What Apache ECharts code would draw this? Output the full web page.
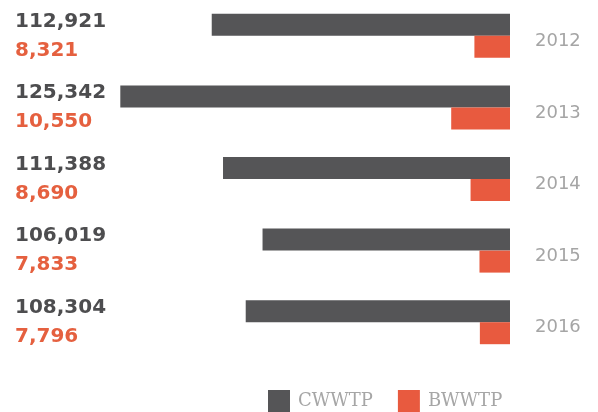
<!DOCTYPE html>
<html>
<head>
<meta charset="utf-8">
<script src="https://cdn.jsdelivr.net/npm/echarts@6/dist/echarts.min.js"></script>
<style>
  html, body { margin: 0; padding: 0; background: #fff; }
  #chart { width: 598px; height: 412px; }
</style>
</head>
<body>
<div id="chart"></div>
<script>
// Annual volumes per plant
const years = ['2012', '2013', '2014', '2015', '2016'];
const cwwtp = [112921, 125342, 111388, 106019, 108304];
const bwwtp = [8321, 10550, 8690, 7833, 7796];
const seriesNames = ['CWWTP', 'BWWTP'];

const DARK = '#555557';
const ORANGE = '#e85a3f';

const fmt = v => v.toLocaleString('en-US');

const chart = echarts.init(document.getElementById('chart'), null, { renderer: 'canvas' });

chart.setOption({
  animation: false,
  grid: { left: 100, right: 88, top: -2, height: 360, containLabel: false },
  legend: {
    left: 268,
    top: 390,
    padding: 0,
    icon: 'rect',
    itemWidth: 22,
    itemHeight: 22,
    itemGap: 25,
    data: seriesNames,
    textStyle: {
      fontFamily: 'DejaVu Serif',
      fontSize: 18,
      color: '#a6a6a6',
      padding: [2, 0, 0, 3]
    }
  },
  xAxis: [
    { type: 'value', inverse: true, min: 72400, max: 128100, show: false },
    { type: 'value', inverse: true, min: 4900, max: 44300, show: false }
  ],
  yAxis: [
    {
      type: 'category',
      data: years,
      inverse: true,
      position: 'left',
      axisLine: { show: false },
      axisTick: { show: false },
      splitLine: { show: false },
      axisLabel: {
        align: 'left',
        margin: 85,
        formatter: (v, i) => `{a|${fmt(cwwtp[i])}}\n{b|${fmt(bwwtp[i])}}`,
        rich: {
          a: { fontFamily: 'DejaVu Sans', fontWeight: 'bold', fontSize: 20, lineHeight: 29, color: '#4d4d4f' },
          b: { fontFamily: 'DejaVu Sans', fontWeight: 'bold', fontSize: 20, lineHeight: 29, color: '#e5603f' }
        }
      }
    },
    {
      type: 'category',
      data: years,
      inverse: true,
      position: 'right',
      axisLine: { show: false },
      axisTick: { show: false },
      splitLine: { show: false },
      axisLabel: {
        margin: 25,
        align: 'left',
        formatter: v => `{y|${v}}`,
        rich: {
          y: {
            padding: [11, 0, 0, 0],
            fontFamily: 'DejaVu Sans',
            fontSize: 18,
            color: '#a5a5a5'
          }
        }
      }
    }
  ],
  series: [
    {
      name: seriesNames[0],
      type: 'bar',
      xAxisIndex: 0,
      yAxisIndex: 0,
      data: cwwtp,
      barWidth: 22,
      barGap: '0%',
      itemStyle: { color: DARK }
    },
    {
      name: seriesNames[1],
      type: 'bar',
      xAxisIndex: 1,
      yAxisIndex: 0,
      data: bwwtp,
      barWidth: 22,
      barGap: '0%',
      itemStyle: { color: ORANGE }
    }
  ]
});
</script>
</body>
</html>
